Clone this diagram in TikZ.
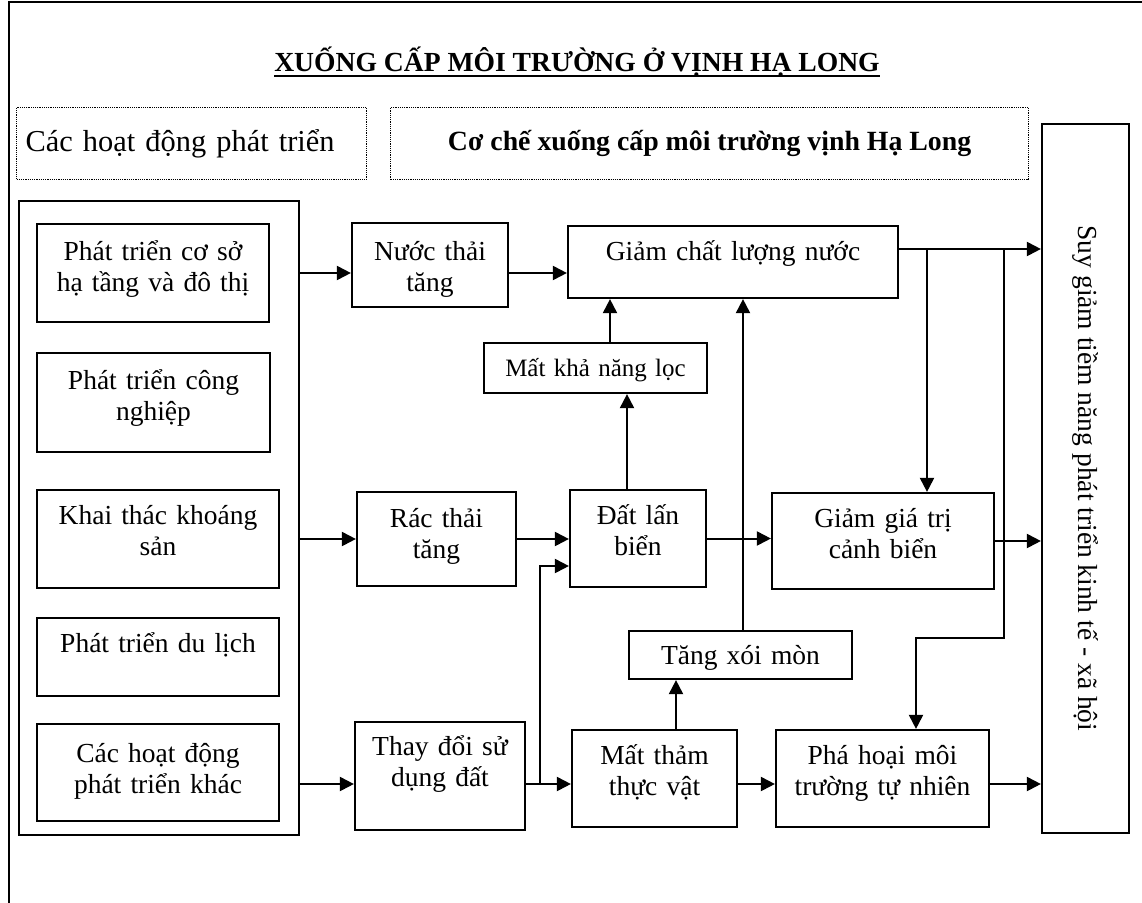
\documentclass[tikz,border=0pt]{standalone}
\usepackage{fontspec}
\setmainfont{Liberation Serif}
\usepackage{graphicx}
\usepackage{tikz}
\usetikzlibrary{arrows.meta}

\begin{document}
\begin{tikzpicture}[
    x=1pt, y=-1pt,
    box/.style={rectangle, draw, line width=2.2pt, align=center, inner xsep=4pt, inner ysep=0pt, font=\fontsize{27.5}{31}\selectfont},
    headbox/.style={rectangle, draw, densely dotted, line width=1.2pt, minimum height=72pt, inner ysep=0pt},
    arrow/.style={-{Triangle[length=14pt, width=14pt]}, line width=2pt}
]

% Page and frame
\useasboundingbox (0,0) rectangle (1142,902);
\fill[white] (0,0) rectangle (1142,902);
\clip (0,0) rectangle (1142,902);
\draw[line width=2.2pt] (9,920) -- (9,2) -- (1160,2);

% Title
\node[inner sep=0pt, anchor=base, font=\bfseries\fontsize{27.6}{33}\selectfont] (title) at (577,71) {XUỐNG CẤP MÔI TRƯỜNG Ở VỊNH HẠ LONG};
\draw[line width=2.5pt] ([yshift=-5pt]title.base west) -- ([yshift=-5pt]title.base east);

% Column headers
\node[headbox, anchor=north west, text width=332pt, align=left, inner xsep=9pt, font=\fontsize{30.4}{35}\selectfont] (actlabel) at (16,107) {Các hoạt động phát triển};
\node[headbox, anchor=north west, minimum width=638pt, font=\bfseries\fontsize{27.8}{33}\selectfont] (mechlabel) at (390,107) {Cơ chế xuống cấp môi trường vịnh Hạ Long};

% Development activities
\node[box, minimum width=280pt, minimum height=634pt, anchor=north west] (activities) at (18,200) {};
\node[box, text width=224pt, text height=36pt, text depth=62pt] (infra) at (153,273) {Phát triển cơ sở\\hạ tầng và đô thị};
\node[box, text width=225pt, text height=36pt, text depth=63pt] (industry) at (153.5,402.5) {Phát triển công\\nghiệp};
\node[box, text width=234pt, text height=34pt, text depth=64pt] (mining) at (158,539) {Khai thác khoáng\\sản};
\node[box, text width=234pt, text height=34pt, text depth=44pt] (tourism) at (158,657) {Phát triển du lịch};
\node[box, text width=234pt, text height=38pt, text depth=59pt] (other) at (158,772.5) {Các hoạt động\\phát triển khác};

% Degradation mechanism
\node[box, text width=148pt, text height=37pt, text depth=47pt] (wastewater) at (430,265) {Nước thải\\tăng};
\node[box, text width=322pt, text height=34pt, text depth=38pt] (waterq) at (733,262) {Giảm chất lượng nước};
\node[box, text width=215pt, text height=33pt, text depth=17pt, font=\fontsize{25}{29}\selectfont] (filter) at (595.5,368) {Mất khả năng lọc};
\node[box, text width=151pt, text height=35pt, text depth=59pt] (garbage) at (436.5,539) {Rác thải\\tăng};
\node[box, text width=128pt, text height=34pt, text depth=63pt] (reclaim) at (638,538.5) {Đất lấn\\biển};
\node[box, text width=214pt, text height=34pt, text depth=62pt] (scenery) at (883,541) {Giảm giá trị\\cảnh biển};
\node[box, text width=215pt, text height=33pt, text depth=15pt] (erosion) at (740.5,655) {Tăng xói mòn};
\node[box, text width=162pt, text height=33pt, text depth=75pt] (landuse) at (440,776) {Thay đổi sử\\dụng đất};
\node[box, text width=157pt, text height=34pt, text depth=63pt] (vegetation) at (654.5,778.5) {Mất thảm\\thực vật};
\node[box, text width=205pt, text height=34pt, text depth=63pt] (nature) at (882.5,778.5) {Phá hoại môi\\trường tự nhiên};

% Outcome
\node[box, minimum width=87pt, minimum height=709pt, inner sep=0pt] (outcome) at (1085.5,478.5) {\rotatebox{-90}{Suy giảm tiềm năng phát triển kinh tế - xã hội}};

% Junction points
\coordinate (fork) at (540,784);
\coordinate (tapA) at (927,249);
\coordinate (tapB) at (1004,249);
\coordinate (bend) at (916,638);

% Arrows from activities
\draw[arrow] (activities.east |- infra) -- (wastewater.west |- infra);
\draw[arrow] (activities.east |- mining) -- (garbage.west |- mining);
\draw[arrow] (activities.east |- fork) -- (landuse.west |- fork);

% Arrows inside the mechanism
\draw[arrow] (wastewater.east |- infra) -- (waterq.west |- infra);
\draw[arrow] (garbage.east) -- (reclaim.west |- garbage.east);
\draw[arrow] (fork) |- ([yshift=-27.5pt]reclaim.west);
\draw[arrow] (landuse.east |- fork) -- (vegetation.west |- fork);
\draw[arrow] (vegetation.east |- fork) -- (nature.west |- fork);
\draw[arrow] ([xshift=-11pt]reclaim.north) -- ([xshift=-11pt]reclaim.north |- filter.south);
\draw[arrow] ([xshift=14.5pt]filter.north) -- ([xshift=14.5pt]filter.north |- waterq.south);
\draw[arrow] ([xshift=21.5pt]vegetation.north) -- ([xshift=21.5pt]vegetation.north |- erosion.south);
\draw[arrow] ([xshift=2.5pt]erosion.north) -- ([xshift=2.5pt]erosion.north |- waterq.south);
\draw[arrow] (reclaim.east) -- (scenery.west |- reclaim.east);
\draw[arrow] (tapA) -- (tapA |- scenery.north);
\draw[arrow] (tapB) |- (bend) -- (bend |- nature.north);

% Arrows to the outcome
\draw[arrow] ([yshift=13pt]waterq.east) -- ([yshift=13pt]waterq.east -| outcome.west);
\draw[arrow] (scenery.east) -- (scenery.east -| outcome.west);
\draw[arrow] (nature.east |- fork) -- (outcome.west |- fork);

\end{tikzpicture}
\end{document}
